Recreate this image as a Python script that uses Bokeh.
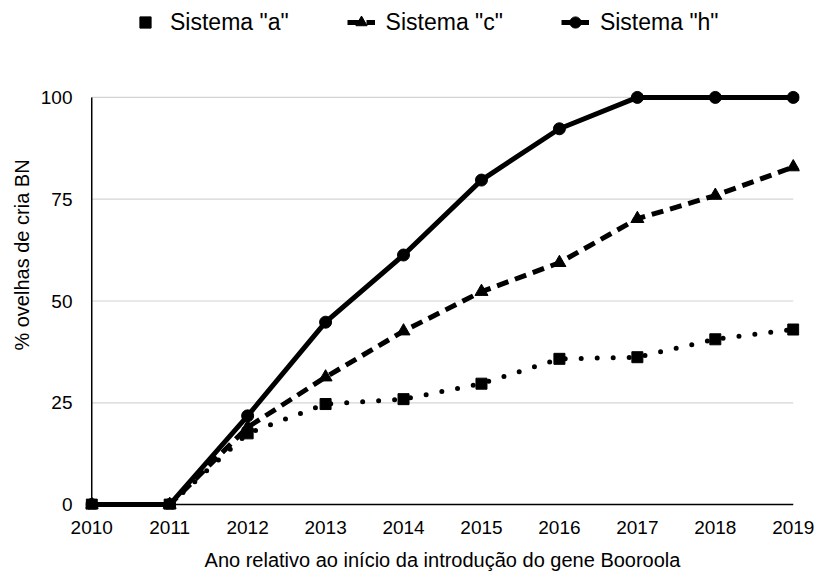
from bokeh.plotting import figure
from bokeh.models import Range1d, FixedTicker, Legend, LegendItem, ColumnDataSource
from bokeh.embed import file_html
from bokeh.resources import INLINE

# ---- data ----
years = [2010, 2011, 2012, 2013, 2014, 2015, 2016, 2017, 2018, 2019]
sistema_a = [0, 0, 17.5, 24.7, 25.9, 29.7, 35.8, 36.2, 40.6, 43.0]
sistema_c = [0, 0, 19.0, 31.3, 42.6, 52.3, 59.4, 70.2, 75.9, 82.9]
sistema_h = [0, 0, 21.8, 44.8, 61.3, 79.7, 92.3, 100, 100, 100]
y_ticks = [0, 25, 50, 75, 100]
series_labels = ['Sistema "a"', 'Sistema "c"', 'Sistema "h"']
x_title = "Ano relativo ao início da introdução do gene Booroola"
y_title = "% ovelhas de cria BN"

FONT = "Liberation Sans"

p = figure(
    frame_width=714, frame_height=509,
    x_range=Range1d(2009.92, 2019.08), y_range=Range1d(-1.2, 123.8),
    output_backend="svg", toolbar_location=None,
    min_border_left=85, min_border_right=15, min_border_top=0, min_border_bottom=0,
)
p.outline_line_color = None
p.background_fill_color = "white"
p.border_fill_color = "white"
p.xgrid.visible = False
p.ygrid.visible = False

# horizontal grid lines spanning the data years
grid_vals = y_ticks[1:]
p.segment(x0=[years[0]] * len(grid_vals), x1=[years[-1]] * len(grid_vals),
          y0=grid_vals, y1=grid_vals, line_color="#d4d4d4", line_width=1.2,
          level="underlay")
# axis lines (x axis at y=0, y axis at first year)
p.segment(x0=[years[0], years[0]], x1=[years[-1], years[0]],
          y0=[y_ticks[0], y_ticks[0]], y1=[y_ticks[0], y_ticks[-1]],
          line_color="black", line_width=1.5, level="underlay")

src = ColumnDataSource(dict(x=years, a=sistema_a, c=sistema_c, h=sistema_h))

la = p.line("x", "a", source=src, line_color="black", line_width=5,
            line_dash="0 16", line_cap="round")
sa = p.scatter("x", "a", source=src, marker="square", size=11,
               fill_color="black", line_color="black")
lc = p.line("x", "c", source=src, line_color="black", line_width=5,
            line_dash="12 7")
sc = p.scatter("x", "c", source=src, marker="triangle", size=13,
               fill_color="black", line_color="black")
lh = p.line("x", "h", source=src, line_color="black", line_width=5)
sh = p.scatter("x", "h", source=src, marker="circle", size=12,
               fill_color="black", line_color="black")

# axes
for ax in (p.xaxis[0], p.yaxis[0]):
    ax.axis_line_color = None
    ax.major_tick_line_color = None
    ax.minor_tick_line_color = None
    ax.major_tick_out = 0
    ax.major_tick_in = 0
    ax.major_label_text_font = FONT
    ax.major_label_text_font_size = "19px"
    ax.major_label_text_color = "black"
    ax.axis_label_text_font = FONT
    ax.axis_label_text_font_size = "20px"
    ax.axis_label_text_font_style = "normal"
    ax.axis_label_text_color = "black"

p.xaxis.ticker = FixedTicker(ticks=years)
p.xaxis.major_label_standoff = 11
p.xaxis.axis_label = x_title
p.xaxis.axis_label_standoff = 12

p.yaxis.ticker = FixedTicker(ticks=y_ticks)
p.yaxis.major_label_standoff = 13
p.yaxis.axis_label = y_title
p.yaxis.axis_label_standoff = 5

legend = Legend(
    items=[
        LegendItem(label=series_labels[0], renderers=[sa]),
        LegendItem(label=series_labels[1], renderers=[lc, sc]),
        LegendItem(label=series_labels[2], renderers=[lh, sh]),
    ],
    orientation="horizontal", location=(46, 473),
    glyph_width=28, glyph_height=28, label_standoff=11, spacing=58,
    padding=0, margin=0, border_line_color=None, background_fill_alpha=0,
    label_text_font=FONT, label_text_font_size="23px", label_text_color="black",
)
p.add_layout(legend, "center")

open("out.html", "w").write(file_html(p, INLINE))
